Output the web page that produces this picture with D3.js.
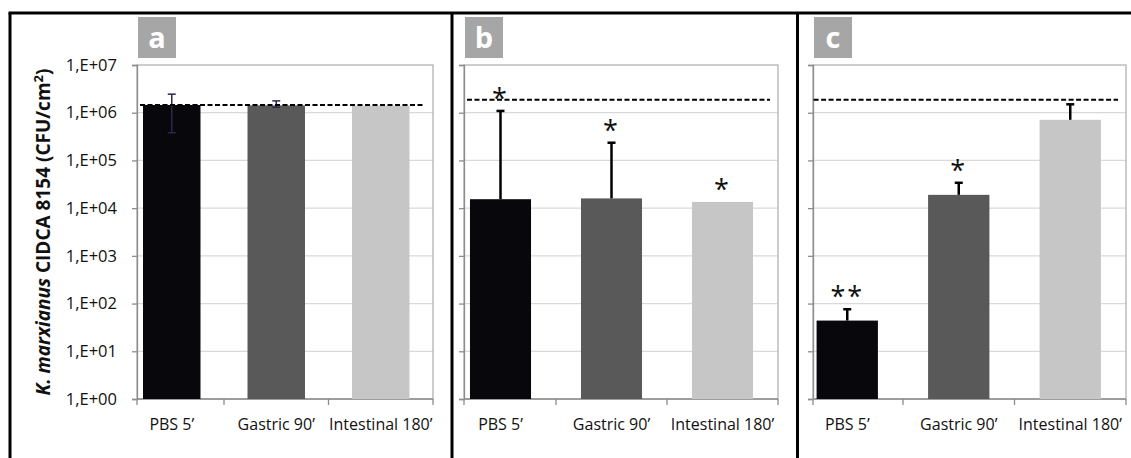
<!DOCTYPE html>
<html>
<head>
<meta charset="utf-8">
<script src="https://cdn.jsdelivr.net/npm/d3@7"></script>
<style>
  body { margin: 0; background: #fff; }
  svg { display: block; font-family: 'Open Sans', sans-serif; }
</style>
</head>
<body>
<div id="chart"></div>
<script>
// Data
const categories = ['PBS 5\u2019', 'Gastric 90\u2019', 'Intestinal 180\u2019'];
const panelLetters = ['a', 'b', 'c'];

const yTicks = [1, 1e1, 1e2, 1e3, 1e4, 1e5, 1e6, 1e7];
const yTickLabels = ['1,E+00', '1,E+01', '1,E+02', '1,E+03', '1,E+04', '1,E+05', '1,E+06', '1,E+07'];

// panel a
const meansA = [1.45e6, 1.42e6, 1.4e6];
const errHighA = [2.45e6, 1.77e6, null];
const errLowA = [3.8e5, 1.3e6, null];
const starsA = ['', '', ''];

// panel b
const meansB = [1.54e4, 1.6e4, 1.35e4];
const errHighB = [1.09e6, 2.35e5, null];
const errLowB = [null, null, null];
const starsB = ['*', '*', '*'];

// panel c
const meansC = [44, 1.9e4, 7.1e5];
const errHighC = [76, 3.4e4, 1.5e6];
const errLowC = [null, null, null];
const starsC = ['**', '*', ''];

// dashed reference line (initial count)
const controlLevels = [1.45e6, 1.86e6, 1.86e6];

const barColors = ['#08080c', '#595959', '#c6c6c6'];

const width = 1131;
const height = 458;

const svg = d3
  .select('#chart')
  .append('svg')
  .attr('width', width)
  .attr('height', height);

// panel geometry
const panels = [
  { means: meansA, hi: errHighA, lo: errLowA, stars: starsA, left: 137, right: 433, bandStart: 119.5, errColor: '#2b2750', errWidth: 1.5 },
  { means: meansB, hi: errHighB, lo: errLowB, stars: starsB, left: 464, right: 778, bandStart: 445, errColor: '#000', errWidth: 2.5 },
  { means: meansC, hi: errHighC, lo: errLowC, stars: starsC, left: 813, right: 1126, bandStart: 791.5, errColor: '#000', errWidth: 2.5 },
];

const plotTop = 65;
const plotBottom = 399;

const y = d3.scaleLog().domain([1, 1e7]).range([plotBottom, plotTop]);

panels.forEach((p, pi) => {
  const g = svg.append('g');

  const x = d3
    .scaleBand()
    .domain(categories)
    .range([p.bandStart, p.right])
    .paddingInner(0.45)
    .paddingOuter(0.225);

  // gridlines
  g.selectAll('.grid')
    .data(yTicks.slice(1, -1))
    .join('line')
    .attr('x1', p.left)
    .attr('x2', p.right)
    .attr('y1', (d) => y(d))
    .attr('y2', (d) => y(d))
    .attr('stroke', '#d9d9d9')
    .attr('stroke-width', 1.3);

  // plot frame
  g.append('rect')
    .attr('x', p.left)
    .attr('y', plotTop)
    .attr('width', p.right - p.left)
    .attr('height', plotBottom - plotTop)
    .attr('fill', 'none')
    .attr('stroke', '#b3b3b3')
    .attr('stroke-width', 1.3);

  // y axis
  const yAxis = d3
    .axisLeft(y)
    .tickValues(yTicks)
    .tickSize(5)
    .tickPadding(15)
    .tickFormat((d, i) => (pi === 0 ? yTickLabels[i] : ''));

  const ya = g.append('g').attr('transform', `translate(${p.left},0)`).call(yAxis);
  ya.select('.domain').attr('stroke', '#8c8c8c').attr('stroke-width', 1.3);
  ya.selectAll('.tick line').attr('stroke', '#8c8c8c').attr('stroke-width', 1.3);
  ya.selectAll('.tick text')
    .attr('fill', '#111')
    .style('font-size', '16.5px')
    .style('font-family', "'Open Sans', sans-serif");

  // x axis line and ticks at category boundaries
  g.append('line')
    .attr('x1', p.left)
    .attr('x2', p.right)
    .attr('y1', plotBottom)
    .attr('y2', plotBottom)
    .attr('stroke', '#8c8c8c')
    .attr('stroke-width', 1.3);

  const bounds = [p.left, p.bandStart + x.step(), p.bandStart + 2 * x.step(), p.right];
  g.selectAll('.xtick')
    .data(bounds)
    .join('line')
    .attr('x1', (d) => d)
    .attr('x2', (d) => d)
    .attr('y1', plotBottom)
    .attr('y2', plotBottom + 6)
    .attr('stroke', '#8c8c8c')
    .attr('stroke-width', 1.3);

  // bars
  g.selectAll('.bar')
    .data(p.means)
    .join('rect')
    .attr('x', (d, i) => x(categories[i]))
    .attr('y', (d) => y(d))
    .attr('width', x.bandwidth())
    .attr('height', (d) => plotBottom - y(d))
    .attr('fill', (d, i) => barColors[i]);

  // error bars
  const capW = 4;
  p.means.forEach((m, i) => {
    if (p.hi[i] == null) return;
    const cx = x(categories[i]) + x.bandwidth() / 2;
    const yLo = p.lo[i] == null ? y(m) : y(p.lo[i]);
    const yHi = y(p.hi[i]);
    g.append('line')
      .attr('x1', cx).attr('x2', cx)
      .attr('y1', yLo).attr('y2', yHi)
      .attr('stroke', p.errColor)
      .attr('stroke-width', p.errWidth);
    g.append('line')
      .attr('x1', cx - capW).attr('x2', cx + capW)
      .attr('y1', yHi).attr('y2', yHi)
      .attr('stroke', p.errColor)
      .attr('stroke-width', p.errWidth);
    if (p.lo[i] != null) {
      g.append('line')
        .attr('x1', cx - capW).attr('x2', cx + capW)
        .attr('y1', yLo).attr('y2', yLo)
        .attr('stroke', p.errColor)
        .attr('stroke-width', p.errWidth);
    }
  });

  // dashed control line
  g.append('line')
    .attr('x1', x(categories[0]) - 3)
    .attr('x2', p.right - 8)
    .attr('y1', y(controlLevels[pi]))
    .attr('y2', y(controlLevels[pi]))
    .attr('stroke', '#000')
    .attr('stroke-width', 2)
    .attr('stroke-dasharray', '5,2.5');

  // significance stars
  g.selectAll('.star')
    .data(p.stars)
    .join('text')
    .attr('x', (d, i) => x(categories[i]) + x.bandwidth() / 2)
    .attr('y', (d, i) => y(p.hi[i] == null ? p.means[i] : p.hi[i]) - 3)
    .attr('text-anchor', 'middle')
    .style('font-size', '27px')
    .style('letter-spacing', '2px')
    .attr('fill', '#111')
    .text((d) => d);

  // category labels
  g.selectAll('.xlabel')
    .data(categories)
    .join('text')
    .attr('x', (d) => x(d) + x.bandwidth() / 2)
    .attr('y', 430)
    .attr('text-anchor', 'middle')
    .attr('fill', '#111')
    .style('font-size', '16px')
    .text((d) => d);

  // panel letter box
  g.append('rect')
    .attr('x', p.left + 1)
    .attr('y', 17)
    .attr('width', 38)
    .attr('height', 41)
    .attr('fill', '#a6a6a6');
  g.append('text')
    .attr('x', p.left + 20)
    .attr('y', 48)
    .attr('text-anchor', 'middle')
    .attr('fill', '#fff')
    .style('font-size', '29px')
    .style('font-weight', 'bold')
    .text(panelLetters[pi]);
});

// y axis title
const yTitle = svg
  .append('text')
  .attr('transform', `translate(50,232) rotate(-90)`)
  .attr('text-anchor', 'middle')
  .attr('fill', '#111')
  .style('font-size', '19px')
  .style('font-weight', 'bold');
yTitle.append('tspan').style('font-style', 'italic').text('K. marxianus');
yTitle.append('tspan').text(' CIDCA 8154 (CFU/cm');
yTitle.append('tspan').attr('dy', -7).style('font-size', '13px').text('2');
yTitle.append('tspan').attr('dy', 7).text(')');

// outer frame
const frame = svg.append('g').attr('stroke', '#000').attr('stroke-width', 3);
frame.append('line').attr('x1', 8.5).attr('x2', width).attr('y1', 13).attr('y2', 13);
[10, 452, 797.5].forEach((fx) => {
  frame.append('line').attr('x1', fx).attr('x2', fx).attr('y1', 13).attr('y2', height);
});
</script>
</body>
</html>
